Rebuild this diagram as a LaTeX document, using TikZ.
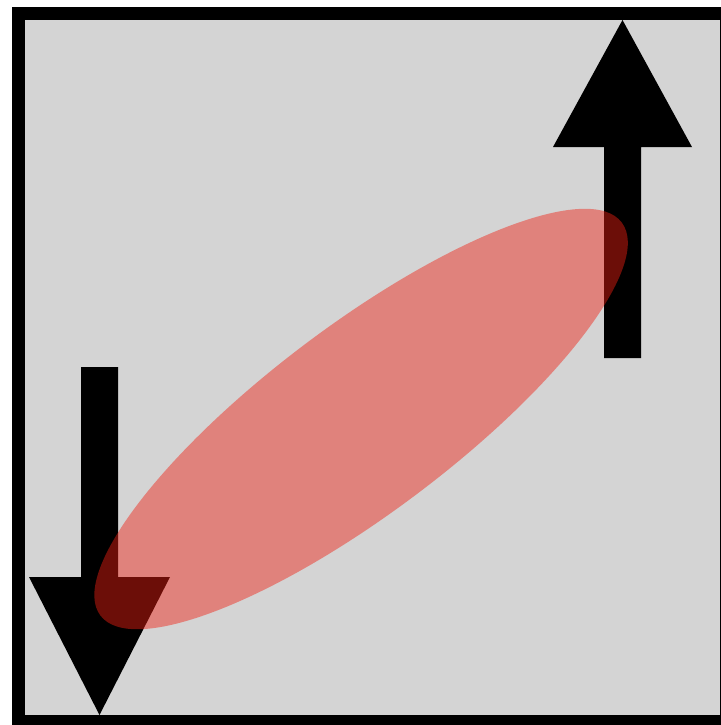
\documentclass[tikz,border=0pt]{standalone}
\usepackage{tikz}
\usetikzlibrary{positioning, calc}

\definecolor{panelgray}{RGB}{212,212,212}
\definecolor{blobred}{RGB}{240,32,18}

\begin{document}
\begin{tikzpicture}[%
    x=0.02cm, y=-0.02cm,   % one unit = one pixel of the layout
    spinarrow/.style={fill=black},
    blob/.style={fill=blobred, fill opacity=0.45},
    frame/.style={line width=0.26cm, draw=black}
]

    % ==========================================
    % 1. Canvas and background
    % ==========================================
    \useasboundingbox (0,0) rectangle (721,725);
    \clip (0,0) rectangle (721,725);
    \fill[panelgray] (18.5,13.5) rectangle (726.5,721.5);

    % ==========================================
    % 2. Arrows - tip points, then outline
    % ==========================================
    \coordinate (upTip)   at (622.5,20);
    \coordinate (downTip) at (99.5,715);

    % spin up (right)
    \fill[spinarrow] (604,358) -- (604,147) -- (553,147) -- (upTip)
        -- (692,147) -- (641,147) -- (641,358) -- cycle;
    % spin down (left)
    \fill[spinarrow] (81,367) -- (81,577) -- (29,577) -- (downTip)
        -- (170,577) -- (118,577) -- (118,367) -- cycle;

    % ==========================================
    % 3. Tilted ellipse over the arrows
    % ==========================================
    \coordinate (blobC) at (361,419);
    \fill[blob, rotate around={37:(blobC)}]
        (blobC) ellipse [x radius=6.53cm, y radius=1.87cm];

    % ==========================================
    % 4. Frame
    % ==========================================
    \draw[frame] (18.5,13.5) rectangle (726.5,721.5);

\end{tikzpicture}
\end{document}
